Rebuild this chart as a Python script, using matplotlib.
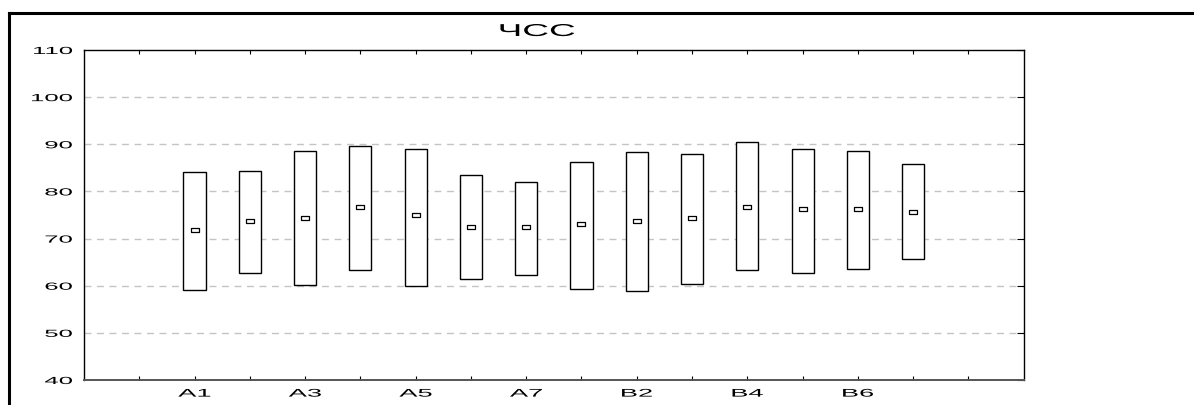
import matplotlib
matplotlib.use("Agg")
import matplotlib.pyplot as plt
from matplotlib.lines import Line2D
from matplotlib.patheffects import AbstractPathEffect
from matplotlib.transforms import Affine2D
import numpy as np

plt.rcParams['font.family'] = ['Liberation Sans', 'DejaVu Sans']

categories = ["A1", "A2", "A3", "A4", "A5", "A6", "A7",
              "B1", "B2", "B3", "B4", "B5", "B6", "B7"]
means = [71.8, 73.7, 74.4, 76.8, 75.0, 72.5, 72.5,
         73.1, 73.7, 74.4, 76.8, 76.2, 76.3, 75.6]
lows = [59.0, 62.8, 60.1, 63.4, 59.9, 61.5, 62.2,
        59.2, 58.9, 60.4, 63.3, 62.8, 63.5, 65.7]
highs = [84.1, 84.4, 88.6, 89.6, 89.1, 83.4, 82.1,
         86.2, 88.3, 87.9, 90.4, 89.0, 88.6, 85.8]
labeled = ["A1", "A3", "A5", "A7", "B2", "B4", "B6"]
title = "ЧСС"
yticks = [40, 50, 60, 70, 80, 90, 100, 110]


class HStretch(AbstractPathEffect):
    """Draw text glyphs stretched horizontally around an anchor fraction."""
    def __init__(self, sx, frac):
        super().__init__()
        self.sx = sx
        self.frac = frac

    def draw_path(self, renderer, gc, tpath, affine, rgbFace=None):
        ext = tpath.get_extents()
        c = ext.x0 + self.frac * ext.width
        t = Affine2D().translate(-c, 0).scale(self.sx, 1).translate(c, 0) + affine
        renderer.draw_path(gc, tpath, t, rgbFace)


W, H = 1194, 405
fig = plt.figure(figsize=(W / 100, H / 100), dpi=100)
ax = fig.add_axes([84 / W, 1 - 380 / H, (1023.7 - 84) / W, (380 - 50) / H])

x = np.arange(1, len(categories) + 1)
heights = np.array(highs) - np.array(lows)
ax.bar(x, heights, bottom=lows, width=0.4, facecolor="white",
       edgecolor="black", linewidth=1.0, zorder=3)
rect = [(-1, -0.5), (1, -0.5), (1, 0.5), (-1, 0.5), (-1, -0.5)]
ax.plot(x, means, linestyle="none", marker=rect, markersize=5.5,
        markerfacecolor="white", markeredgecolor="black",
        markeredgewidth=0.9, zorder=4)

ax.set_xlim(-1, len(categories) + 2)
ax.set_ylim(40, 110)
ticks_x = np.arange(0, len(categories) + 2)
ax.set_xticks(ticks_x)
lab = []
for t in ticks_x:
    if 1 <= t <= len(categories) and categories[t - 1] in labeled:
        lab.append(categories[t - 1])
    else:
        lab.append("")
ax.set_xticklabels(lab, fontsize=8.0)
ax.set_yticks(yticks)
ax.set_yticklabels([str(v) for v in yticks], fontsize=7.4)

for v in yticks[1:-1]:
    ax.axhline(v, color="#c4c4c4", linestyle=(0, (5, 4)), linewidth=1.0, zorder=1)

ax.tick_params(axis="x", direction="in", length=3, top=True, bottom=True,
               width=0.8, pad=6.2, colors="black")
ax.tick_params(axis="y", direction="in", length=5, left=False, right=True,
               labelleft=True, width=0.8, pad=8.4)
for s in ax.spines.values():
    s.set_linewidth(1.0)
    s.set_color("black")
ax.spines["bottom"].set_color("#555555")
ax.spines["bottom"].set_linewidth(1.4)

for t in ax.get_xticklabels():
    t.set_path_effects([HStretch(2.45, 0.5)])
for t in ax.get_yticklabels():
    t.set_path_effects([HStretch(2.5, 1.0)])

fig.text(537 / W, 1 - 31.5 / H, title, ha="center", va="center", fontsize=12.4,
         path_effects=[HStretch(2.15, 0.5)])

fig.add_artist(Line2D([9 / W, 1.0], [1 - 13 / H, 1 - 13 / H],
                      transform=fig.transFigure, color="black", linewidth=2.2))
fig.add_artist(Line2D([9 / W, 9 / W], [1 - 13 / H, 0.0],
                      transform=fig.transFigure, color="black", linewidth=2.2))

fig.savefig("out.png", dpi=100)
